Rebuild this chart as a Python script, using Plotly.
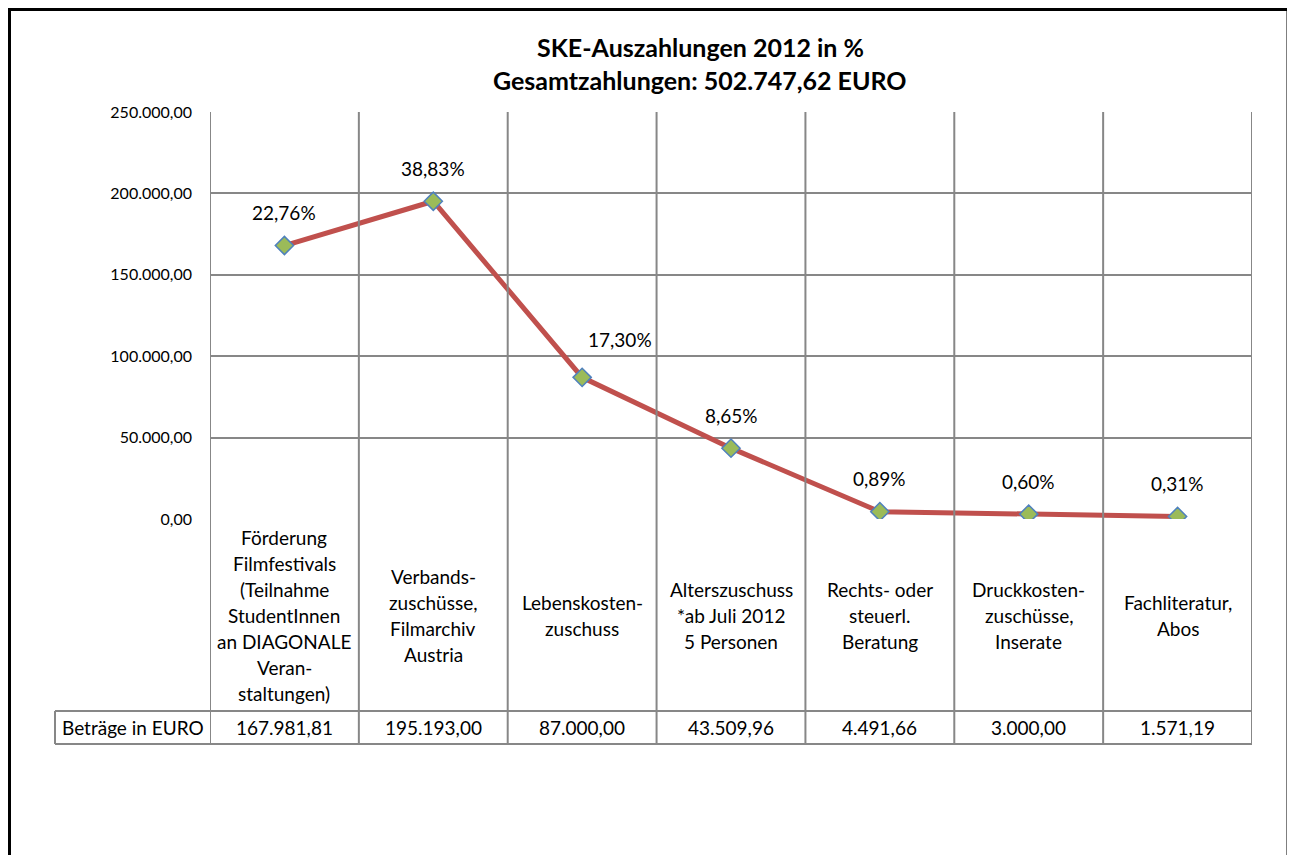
import plotly.graph_objects as go

categories = [
    "Förderung<br>Filmfestivals<br>(Teilnahme<br>StudentInnen<br>an DIAGONALE<br>Veran-<br>staltungen)",
    "Verbands-<br>zuschüsse,<br>Filmarchiv<br>Austria",
    "Lebenskosten-<br>zuschuss",
    "Alterszuschuss<br>*ab Juli 2012<br>5 Personen",
    "Rechts- oder<br>steuerl.<br>Beratung",
    "Druckkosten-<br>zuschüsse,<br>Inserate",
    "Fachliteratur,<br>Abos",
]
values = [167981.81, 195193.00, 87000.00, 43509.96, 4491.66, 3000.00, 1571.19]
percent_labels = ["22,76%", "38,83%", "17,30%", "8,65%", "0,89%", "0,60%", "0,31%"]
y_ticks = [0, 50000, 100000, 150000, 200000, 250000]
row_header = "Beträge in EURO"
title_lines = ["SKE-Auszahlungen 2012 in %", "Gesamtzahlungen: 502.747,62 EURO"]

OFF = 8  # default page body margin
PW, PH = 1295, 855
W, H = PW - OFF, PH - OFF
L, R, T, B = 210, 1252, 112, 519  # plot area in page pixels
FONT = "Lato, Carlito, Calibri, 'Open Sans', sans-serif"
GRID = "#878787"
TXT = 19
# manual nudge of the one label that was moved aside in the original
LABEL_NUDGE = {2: (38, 38)}


def px_x(p):
    return (p - L) / (R - L)


def px_y(p):
    return (B - p) / (B - T)


def de_fmt(v):
    s = f"{v:,.2f}"
    return s.replace(",", "X").replace(".", ",").replace("X", ".")


n = len(values)
xs = list(range(n))

fig = go.Figure()
fig.add_trace(go.Scatter(
    x=xs, y=values, mode="lines+markers",
    line=dict(color="#C0504D", width=5),
    marker=dict(symbol="diamond", size=14, color="#9BBB59",
                line=dict(color="#4F81BD", width=1.5)),
    hoverinfo="skip", showlegend=False,
))

annotations = []
for i, (x, v, t) in enumerate(zip(xs, values, percent_labels)):
    dx, dy = LABEL_NUDGE.get(i, (0, 33))
    annotations.append(dict(x=x, y=v, xref="x", yref="y", text=t, showarrow=False,
                            xshift=dx, yshift=dy, yanchor="middle", xanchor="center",
                            font=dict(family=FONT, size=TXT, color="#000")))

for i, t in enumerate(title_lines):
    annotations.append(dict(x=px_x(700), y=px_y(47 + i * 33), xref="paper", yref="paper",
                            text="<b>" + t + "</b>", showarrow=False,
                            xanchor="center", yanchor="middle",
                            font=dict(family=FONT, size=25, color="#000")))

label_top, label_bot = 519, 711
mid = (label_top + label_bot) / 2
lh = 26
for x, c in zip(xs, categories):
    lines = c.split("<br>")
    k = len(lines)
    for j, ln in enumerate(lines):
        yp = mid + (j - (k - 1) / 2) * lh
        annotations.append(dict(x=x, y=px_y(yp), xref="x", yref="paper", text=ln,
                                showarrow=False, yanchor="middle", xanchor="center",
                                font=dict(family=FONT, size=TXT, color="#000")))

row_top, row_bot = 711, 744
row_mid = (row_top + row_bot) / 2
for x, v in zip(xs, values):
    annotations.append(dict(x=x, y=px_y(row_mid), xref="x", yref="paper", text=de_fmt(v),
                            showarrow=False, yanchor="middle", xanchor="center",
                            font=dict(family=FONT, size=TXT, color="#000")))
annotations.append(dict(x=px_x((55 + 210) / 2), y=px_y(row_mid), xref="paper", yref="paper",
                        text=row_header, showarrow=False, yanchor="middle", xanchor="center",
                        font=dict(family=FONT, size=TXT, color="#000")))

shapes = []
for i in range(n + 1):
    shapes.append(dict(type="line", xref="x", yref="paper", x0=i - 0.5, x1=i - 0.5,
                       y0=1, y1=px_y(row_bot), line=dict(color=GRID, width=2)))
for yp in (row_top, row_bot):
    shapes.append(dict(type="line", xref="paper", yref="paper", x0=px_x(55), x1=1,
                       y0=px_y(yp), y1=px_y(yp), line=dict(color=GRID, width=2)))
shapes.append(dict(type="line", xref="paper", yref="paper", x0=px_x(55), x1=px_x(55),
                   y0=px_y(row_top), y1=px_y(row_bot), line=dict(color=GRID, width=2)))
shapes.append(dict(type="rect", xref="paper", yref="paper", x0=px_x(9.5), x1=px_x(1288),
                   y0=px_y(9.5), y1=px_y(900), line=dict(color="#000", width=3),
                   fillcolor="rgba(0,0,0,0)"))

fig.update_layout(
    width=W, height=H,
    margin=dict(l=L - OFF, r=PW - R, t=T - OFF, b=PH - B, pad=0),
    paper_bgcolor="white", plot_bgcolor="white",
    separators=",.",
    showlegend=False,
    xaxis=dict(range=[-0.5, n - 0.5], showgrid=False, zeroline=False, showticklabels=False,
               showline=False, fixedrange=True),
    yaxis=dict(range=[0, 250000], tickvals=y_ticks, tickformat=",.2f", showgrid=True,
               gridcolor=GRID, gridwidth=2, zeroline=False, showline=False,
               ticks="", ticklabelstandoff=17,
               tickfont=dict(family=FONT, size=16, color="#000"), fixedrange=True),
    annotations=annotations,
    shapes=shapes,
)

fig.write_html("out.html")
